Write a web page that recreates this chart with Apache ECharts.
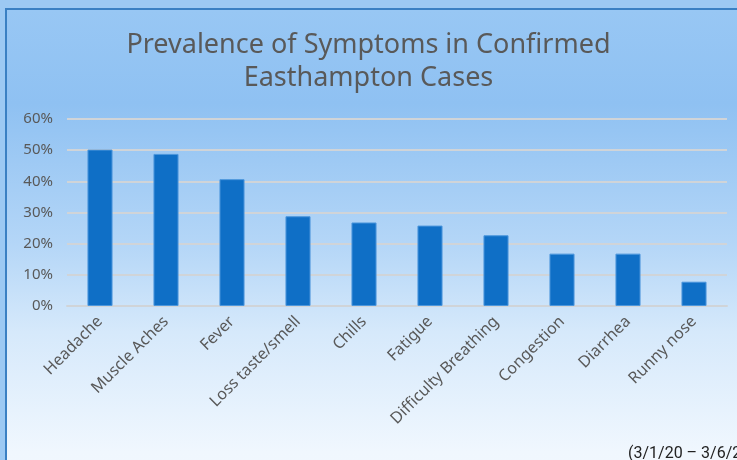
<!DOCTYPE html>
<html>
<head>
<meta charset="utf-8">
<script src="https://cdn.jsdelivr.net/npm/echarts@6/dist/echarts.min.js"></script>
<style>
    html, body {
        margin: 0;
        padding: 0;
        width: 737px;
        height: 460px;
        overflow: hidden;
        background: #9cc9f3;
    }
    #box {
        position: absolute;
        left: 5px;
        top: 8px;
        width: 800px;
        height: 520px;
        border: 2px solid #3a80c3;
        background: linear-gradient(to bottom, #98c7f4 0%, #8fc1f2 18%, #b4d6f7 45%, #d6e9fb 62%, #f0f7fe 85%, #f4f9fe 100%);
    }
    #myChart {
        position: absolute;
        left: 0;
        top: 0;
        width: 737px;
        height: 460px;
    }
</style>
</head>
<body>
<div id="box"></div>
<div id="myChart"></div>
<script>
    // symptom categories and share of confirmed cases (%)
    var categories = ['Headache', 'Muscle Aches', 'Fever', 'Loss taste/smell', 'Chills',
        'Fatigue', 'Difficulty Breathing', 'Congestion', 'Diarrhea', 'Runny nose'];
    var prevalence = [50.2, 48.8, 40.7, 28.8, 26.8, 25.8, 22.7, 16.8, 16.8, 7.8];
    var yTicks = [0, 10, 20, 30, 40, 50, 60];

    var fontName = '"Noto Sans", "Open Sans", sans-serif';
    var textGray = '#595959';

    var myChart = echarts.init(document.getElementById('myChart'), null, {renderer: 'canvas'});
    myChart.setOption({
        backgroundColor: 'transparent',
        animation: false,
        title: [{
            text: 'Prevalence of Symptoms in Confirmed\nEasthampton Cases',
            left: 'center',
            top: 24,
            textStyle: {
                fontFamily: fontName,
                fontSize: 27,
                fontWeight: 'normal',
                color: textGray,
                lineHeight: 33
            }
        }, {
            // date range runs off the right edge in the original
            text: '(3/1/20 \u2013 3/6/21)',
            left: 623,
            top: 441,
            textStyle: {
                fontFamily: 'Roboto, sans-serif',
                fontSize: 16,
                fontWeight: 'normal',
                color: '#222222'
            }
        }],
        grid: {
            left: 67,
            right: 10,
            top: 119,
            bottom: 154,
            containLabel: false
        },
        xAxis: {
            type: 'category',
            data: categories,
            axisLine: {show: true, lineStyle: {color: '#d0d4d8', width: 2}},
            axisTick: {show: false},
            axisLabel: {
                rotate: 45,
                interval: 0,
                margin: 13,
                fontFamily: fontName,
                fontSize: 16,
                color: textGray
            }
        },
        yAxis: {
            type: 'value',
            min: yTicks[0],
            max: yTicks[yTicks.length - 1],
            interval: 10,
            axisLine: {show: false},
            axisTick: {show: false},
            splitLine: {lineStyle: {color: '#d0d4d8', width: 2}},
            axisLabel: {
                margin: 14,
                fontFamily: fontName,
                fontSize: 15,
                color: textGray,
                formatter: '{value}%'
            }
        },
        series: [{
            type: 'bar',
            data: prevalence,
            barWidth: '38%',
            itemStyle: {
                color: '#0f6fc6',
                borderColor: '#4d97dc',
                borderWidth: 1
            }
        }]
    });
</script>
</body>
</html>
